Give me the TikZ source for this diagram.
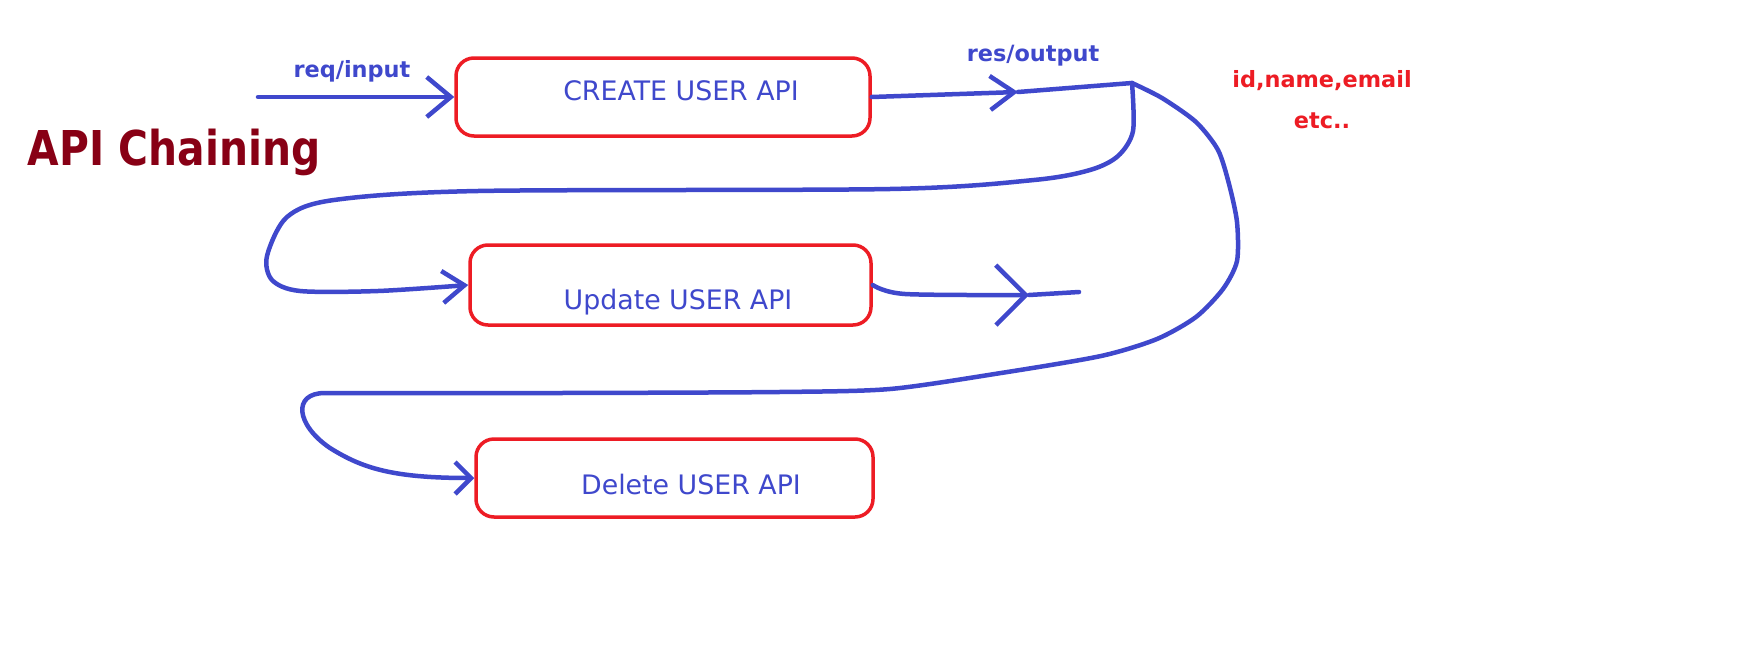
\documentclass[tikz,border=0pt]{standalone}
\usepackage{fontspec}
\setmainfont{DejaVu Sans}
\usetikzlibrary{arrows.meta}
\definecolor{paintblue}{HTML}{3F48CC}
\definecolor{paintred}{HTML}{ED1C24}
\definecolor{paintmaroon}{HTML}{880015}
\tikzset{
	apibox/.style={draw=paintred, line width=1.75pt, rounded corners=9pt, minimum height=39pt, inner sep=0pt},
	apitext/.style={text=paintblue, font=\fontsize{13.4}{15}\selectfont},
	note/.style={font=\bfseries\fontsize{11.2}{13}\selectfont},
	flow/.style={draw=paintblue, line width=2.25pt},
	barb/.style 2 args={-{Straight Barb[length=#1,width=#2]}}
}

\begin{document}
\begin{tikzpicture}[x=0.5pt, y=-0.5pt, line join=round, line cap=round]
				\fill[white] (0,0) rectangle (1744,653);
				\useasboundingbox (0,0) rectangle (1744,653);
				
				\node[font=\bfseries\fontsize{24}{28}\selectfont, text=paintmaroon, xscale=0.85] (title) at (174,152) {API Chaining};
				
				\node[apibox, minimum width=207pt] (create) at (663,97) {};
				\node[apitext] (createtxt) at (681,91) {CREATE USER API};
				
				\node[apibox, minimum width=200.5pt, minimum height=40pt] (update) at (670.5,285) {};
				\node[apitext] (updatetxt) at (678,302) {Update USER API};
				
				\node[apibox, minimum width=198.5pt] (delete) at (674.5,478) {};
				\node[apitext] (deletetxt) at (691,485) {Delete USER API};
				
				\node[note, text=paintblue] (req) at (352,71) {req/input};
				\node[note, text=paintblue] (res) at (1033,56) {res/output};
				\node[note, text=paintred] (fields) at (1322,81) {id,name,email};
				\node[note, text=paintred] (etc) at (1322,121) {etc..};
				
				\coordinate (reqstart) at (258,97);
				\coordinate (resmid) at (1018,92);
				\coordinate (junction) at (1132,83);
				\coordinate (updmid) at (1029,295);
				\coordinate (updend) at (1079,292);
				
				\draw[flow, barb={12pt}{20pt}] (reqstart) -- (create.west);
				\draw[flow, barb={12pt}{17pt}] (create.east) -- (resmid);
				\draw[flow] (resmid) -- (junction);
				
				\draw[flow, barb={11pt}{16pt}] plot[smooth, tension=0.5] coordinates {(junction) (1133,131) (1118,156) (1090,170) (1034,180) (890,189) (478,191) (334,200) (287,217) (267,256) (272,280) (300,291) (378,291) (update.west)};
				
				\draw[flow, barb={15pt}{30pt}] plot[smooth, tension=0.5] coordinates {(update.east) (905,294) (updmid)};
				\draw[flow] (updmid) -- (updend);
				
				\draw[flow, barb={8pt}{16pt}] plot[smooth, tension=0.45] coordinates {(junction) (1162,98) (1196,122) (1218,150) (1229,184) (1237,222) (1237,261) (1223,289) (1196,317) (1157,339) (1101,356) (1001,373) (890,389) (779,392) (560,393) (325,393)}
					.. controls (292,393) and (296,425) .. (330,448)
					.. controls (362,468) and (392,478) .. (delete.west);
\end{tikzpicture}
\end{document}
